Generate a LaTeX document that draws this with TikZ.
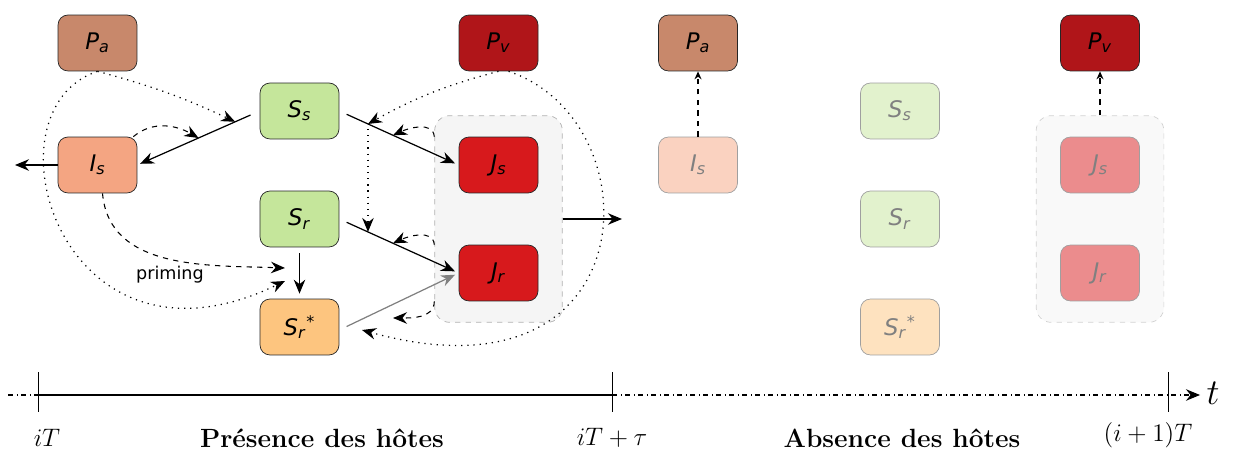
\documentclass[tikz,border=0pt]{standalone}
\usepackage{fontspec}
\newfontfamily\nodefont{DejaVu Sans}
\usepackage{tikz}
\usetikzlibrary{positioning,arrows.meta,fit,backgrounds,calc}

\definecolor{paC}{HTML}{C8886B}
\definecolor{pvC}{HTML}{B01519}
\definecolor{isC}{HTML}{F4A582}
\definecolor{ssC}{HTML}{C5E69B}
\definecolor{srsC}{HTML}{FDC57F}
\definecolor{jC}{HTML}{D7191C}

\newcommand{\lab}[2]{\textit{#1}\textsubscript{\textit{#2}}}
\newcommand{\labstar}[2]{\textit{#1}\textsubscript{\textit{#2}}\textsuperscript{*}}

\begin{document}
\begin{tikzpicture}[
    x=0.02cm, y=-0.02cm,
    state/.style={draw=black!85, rounded corners=0.2cm, minimum height=1.12cm, minimum width=1.58cm, inner sep=0pt, font=\nodefont\fontsize{13}{15}\selectfont},
    paS/.style={state, fill=paC},
    pvS/.style={state, fill=pvC},
    isS/.style={state, fill=isC},
    ssS/.style={state, fill=ssC},
    srsS/.style={state, fill=srsC},
    jS/.style={state, fill=jC},
    faded/.style={draw=gray!75, text=black!50},
    group/.style={draw=gray!60, dashed, fill=gray!8, rounded corners=0.3cm},
    arr/.style={-{Stealth[length=2.8mm, width=2.3mm]}, line width=0.7pt},
    smallarr/.style={-{Stealth[length=1.6mm, width=1.4mm]}, line width=0.7pt, dashed},
    dotarr/.style={arr, line width=0.7pt, dash pattern=on 0.7pt off 2.8pt},
    dasharr/.style={arr, dashed, line width=0.6pt},
    timetxt/.style={font=\fontsize{15}{17}\selectfont},
]
\useasboundingbox (0,0) rectangle (1233,452);

% Presence des hotes
\node[paS] (Pa) at (97.5,43) {\lab{P}{a}};
\node[isS] (Is) at (97.5,165) {\lab{I}{s}};
\node[ssS] (Ss) at (299.5,111) {\lab{S}{s}};
\node[ssS] (Sr) at (299.5,219) {\lab{S}{r}};
\node[srsS] (Srs) at (299.5,327) {\labstar{S}{r}};
\node[pvS] (Pv) at (498.5,43) {\lab{P}{v}};
\node[jS] (Js) at (498.5,165) {\lab{J}{s}};
\node[jS] (Jr) at (498.5,273) {\lab{J}{r}};
\begin{scope}[on background layer]
\node[group, inner xsep=0.48cm, inner ysep=0.42cm, fit=(Js)(Jr)] (box) {};
\end{scope}

% Free ends
\coordinate (exitI) at (15,165);
\coordinate (exitJ) at (622,219);
\coordinate (prA) at (285,268);
\coordinate (prB) at (285,281);
\coordinate (srsA) at (362,330);
\coordinate (srsB) at (393,318);

% Infection
\draw[arr] (Is.west) -- (exitI);
\draw[arr, shorten <=0.2cm, shorten >=0.06cm] (Ss.west) -- (Is.east)
    coordinate[pos=0.2] (pIn) coordinate[pos=0.5] (dIn);
\draw[arr, shorten <=0.16cm, shorten >=0.08cm] (Ss.east) -- (Js.west)
    coordinate[pos=0.24] (sjA) coordinate[pos=0.45] (sjB);
\draw[arr, shorten <=0.16cm, shorten >=0.08cm] (Sr.east) -- (Jr.west)
    coordinate[pos=0.24] (srA) coordinate[pos=0.45] (srB);
\draw[arr, gray, shorten <=0.16cm, shorten >=0.08cm] ([yshift=-0.06cm]Srs.east) -- (Jr.west);
\draw[arr, shorten <=0.12cm, shorten >=0.1cm] (Sr.south) -- (Srs.north);
\draw[arr] (box.east) -- (exitJ);

% Feedback
\draw[dasharr] ([xshift=-0.08cm]Is.north east) to[out=40, in=150] (dIn);
\draw[dotarr] (Pa.south) to[bend left=5] (pIn);
\draw[dasharr] ([xshift=0.1cm]Is.south) to[out=-85, in=178] (prA);
\node[font=\nodefont\fontsize{10}{12}\selectfont] (prim) at (170,275) {priming};
\draw[dotarr] (Pa.south) .. controls (-20,110) and (60,390) .. (prB);
\draw[dotarr] (Pv.south) to[bend right=7] (sjA);
\draw[dotarr, shorten <=0.1cm] (sjA) -- (srA);
\draw[dotarr] ([xshift=0.2cm]Pv.south) .. controls (655,120) and (650,410) .. (srsA);
\draw[dasharr] (box.west |- Js.north) to[out=95, in=25] (sjB);
\draw[dasharr] (box.west |- Jr.north) to[out=95, in=25] (srB);
\draw[dasharr] (box.west |- Jr.south) to[out=-90, in=0] (srsB);

% Absence des hotes
\node[paS] (Pa2) at (698,43) {\lab{P}{a}};
\node[isS, faded, fill=isC!50] (Is2) at (698,165) {\lab{I}{s}};
\node[ssS, faded, fill=ssC!50] (Ss2) at (900,111) {\lab{S}{s}};
\node[ssS, faded, fill=ssC!50] (Sr2) at (900,219) {\lab{S}{r}};
\node[srsS, faded, fill=srsC!50] (Srs2) at (900,327) {\labstar{S}{r}};
\node[pvS] (Pv2) at (1100,43) {\lab{P}{v}};
\node[jS, faded, fill=jC!50] (Js2) at (1100,165) {\lab{J}{s}};
\node[jS, faded, fill=jC!50] (Jr2) at (1100,273) {\lab{J}{r}};
\begin{scope}[on background layer]
\node[group, draw=gray!35, fill=gray!5, inner xsep=0.48cm, inner ysep=0.42cm, fit=(Js2)(Jr2)] (box2) {};
\end{scope}
\draw[smallarr] (Is2.north) -- (Pa2.south);
\draw[smallarr] (box2.north) -- (Pv2.south);

% Time axis
\coordinate (tS) at (8,395);
\coordinate (tA) at (38,395);
\coordinate (tB) at (612,395);
\coordinate (tC) at (1168,395);
\coordinate (tE) at (1200,395);
\draw[dash dot, line width=0.6pt] (tS) -- (tA);
\draw[line width=0.7pt] (tA) -- (tB);
\draw[dash dot, -{Stealth[length=2.8mm, width=2.3mm]}, line width=0.6pt] (tB) -- (tE);
\foreach \c in {tA,tB,tC}
    \draw[line width=0.5pt] ([yshift=0.46cm]\c) -- ([yshift=-0.34cm]\c);
\node[font=\fontsize{21}{23}\selectfont] (tlab) at (1213,393) {$t$};
\node[timetxt] (lA) at (47,438) {$iT$};
\node[timetxt] (lB) at (612,438) {$iT+\tau$};
\node[timetxt] (lC) at (1148,435) {$(i+1)T$};
\node[timetxt] (pres) at (322,438) {\textbf{Présence des hôtes}};
\node[timetxt] (abs) at (902,438) {\textbf{Absence des hôtes}};

\end{tikzpicture}
\end{document}
